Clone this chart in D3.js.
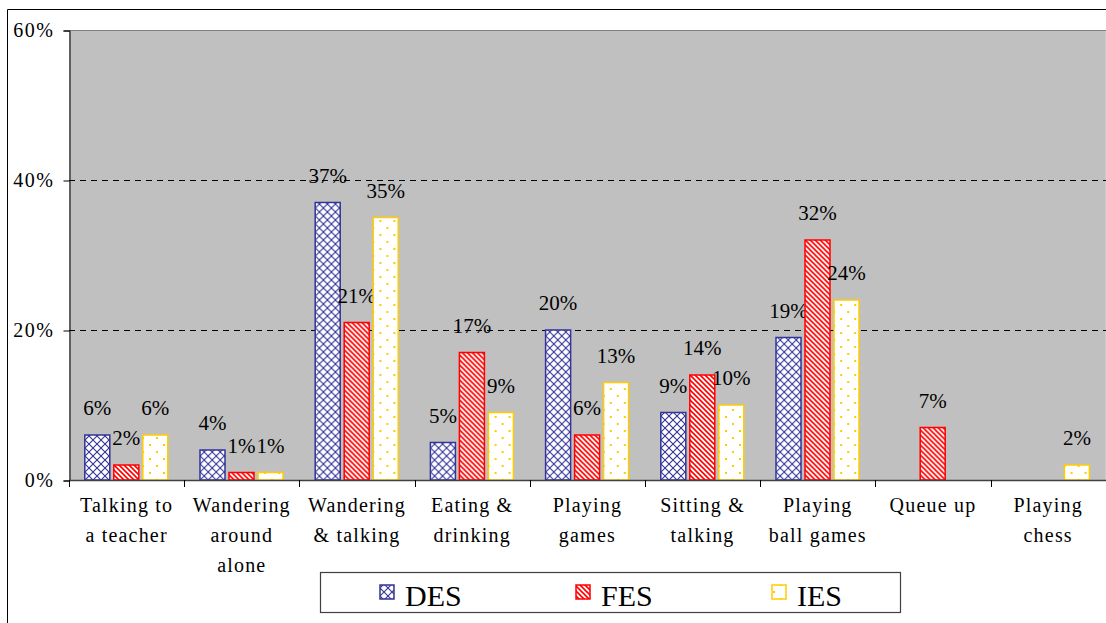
<!DOCTYPE html>
<html>
<head>
<meta charset="utf-8">
<script src="https://cdn.jsdelivr.net/npm/d3@7"></script>
<style>
  body, html { margin: 0; padding: 0; background: #fff; overflow: hidden; }
  svg { display: block; font-family: "Liberation Serif", "DejaVu Serif", serif; }
</style>
</head>
<body>
<svg id="chart" width="1106" height="623"></svg>
<script>
// data
var categories = [
  ["Talking to", "a teacher"],
  ["Wandering", "around", "alone"],
  ["Wandering", "& talking"],
  ["Eating &", "drinking"],
  ["Playing", "games"],
  ["Sitting &", "talking"],
  ["Playing", "ball games"],
  ["Queue up"],
  ["Playing", "chess"]
];
var seriesNames = ["DES", "FES", "IES"];
var desValues = [6, 4, 37, 5, 20, 9, 19, 0, 0];
var fesValues = [2, 1, 21, 17, 6, 14, 32, 7, 0];
var iesValues = [6, 1, 35, 9, 13, 10, 24, 0, 2];
var yTicks = [0, 20, 40, 60];

var seriesValues = [desValues, fesValues, iesValues];
var strokes = ["#333399", "#ff0000", "#ffcc00"];

var svg = d3.select("#chart");
var plotLeft = 69, plotTop = 30, plotBottom = 480, bandW = 115.2;

var x = d3.scaleBand().domain(d3.range(categories.length))
  .range([plotLeft, plotLeft + bandW * categories.length]).padding(0);
var xs = d3.scaleBand().domain(seriesNames).range([15.8, 98.8]).paddingInner(0.138);
var y = d3.scaleLinear().domain([0, 60]).range([plotBottom, plotTop]);

// patterns
var defs = svg.append("defs");
var pDes = defs.append("pattern").attr("id", "pDES").attr("patternUnits", "userSpaceOnUse")
  .attr("width", 8).attr("height", 8);
pDes.append("rect").attr("width", 8).attr("height", 8).attr("fill", "#fff");
pDes.append("path").attr("d", "M0,0L8,8M8,0L0,8").attr("stroke", "#333399").attr("stroke-width", 1.1);

var pFes = defs.append("pattern").attr("id", "pFES").attr("patternUnits", "userSpaceOnUse")
  .attr("width", 5).attr("height", 5);
pFes.append("rect").attr("width", 5).attr("height", 5).attr("fill", "#fff");
pFes.append("path").attr("d", "M-1,-1L6,6M-1,4L1,6M4,-1L6,1").attr("stroke", "#ff0000").attr("stroke-width", 1.6);

var pIes = defs.append("pattern").attr("id", "pIES").attr("patternUnits", "userSpaceOnUse")
  .attr("width", 14).attr("height", 14);
pIes.append("rect").attr("width", 14).attr("height", 14).attr("fill", "#fff");
pIes.append("rect").attr("x", 3).attr("y", 3).attr("width", 2).attr("height", 2).attr("fill", "#ffcc00");
pIes.append("rect").attr("x", 10).attr("y", 10).attr("width", 2).attr("height", 2).attr("fill", "#ffcc00");

// outer frame
svg.append("path").attr("d", "M7.5,640V9.5H1110").attr("fill", "none").attr("stroke", "#000").attr("stroke-width", 1);

// plot background
svg.append("rect").attr("x", plotLeft).attr("y", plotTop)
  .attr("width", bandW * categories.length).attr("height", plotBottom - plotTop)
  .attr("fill", "#c0c0c0");

// grid lines
svg.selectAll(".grid").data([20, 40]).enter().append("line")
  .attr("x1", plotLeft).attr("x2", 1110)
  .attr("y1", function(d) { return Math.round(y(d)) + 0.5; })
  .attr("y2", function(d) { return Math.round(y(d)) + 0.5; })
  .attr("stroke", "#000").attr("stroke-dasharray", "6,5").attr("stroke-width", 1);
svg.append("line").attr("x1", plotLeft).attr("x2", 1110).attr("y1", plotTop + 0.5).attr("y2", plotTop + 0.5)
  .attr("stroke", "#808080").attr("stroke-width", 1.2);

// bars
var groups = svg.selectAll(".grp").data(categories).enter().append("g")
  .attr("transform", function(d, i) { return "translate(" + x(i) + ",0)"; });

seriesNames.forEach(function(name, si) {
  groups.append("rect")
    .attr("x", xs(name))
    .attr("width", xs.bandwidth())
    .attr("y", function(d, i) { return y(seriesValues[si][i]); })
    .attr("height", function(d, i) { return plotBottom - y(seriesValues[si][i]); })
    .attr("fill", "url(#p" + name + ")")
    .attr("stroke", strokes[si]).attr("stroke-width", 1.5)
    .style("display", function(d, i) { return seriesValues[si][i] > 0 ? null : "none"; });

  groups.append("text")
    .attr("x", xs(name) + xs.bandwidth() / 2)
    .attr("y", function(d, i) { return y(seriesValues[si][i]) - 20; })
    .attr("text-anchor", "middle").attr("font-size", 21).attr("fill", "#000")
    .text(function(d, i) { return seriesValues[si][i] > 0 ? seriesValues[si][i] + "%" : ""; });
});

// y axis
var yAxis = svg.append("g").attr("transform", "translate(" + (plotLeft + 0.5) + ",0.5)")
  .call(d3.axisLeft(y).tickValues(yTicks).tickSize(6).tickPadding(9)
    .tickFormat(function(d) { return d + "%"; }));
yAxis.select(".domain").attr("stroke", "#000");
yAxis.selectAll("text").attr("font-size", 20).attr("letter-spacing", 1.5)
  .attr("font-family", "Liberation Serif, serif").attr("fill", "#000");

// x axis line and ticks between categories
svg.append("line").attr("x1", plotLeft).attr("x2", 1110).attr("y1", plotBottom + 0.5).attr("y2", plotBottom + 0.5)
  .attr("stroke", "#404040").attr("stroke-width", 1.5);
svg.selectAll(".xtick").data(d3.range(categories.length + 1)).enter().append("line")
  .attr("x1", function(d) { return Math.round(plotLeft + d * bandW) + 0.5; })
  .attr("x2", function(d) { return Math.round(plotLeft + d * bandW) + 0.5; })
  .attr("y1", plotBottom).attr("y2", plotBottom + 7).attr("stroke", "#000");

// category labels
groups.each(function(lines) {
  var t = d3.select(this).append("text").attr("text-anchor", "middle")
    .attr("font-size", 20).attr("fill", "#000").attr("letter-spacing", 1.2);
  lines.forEach(function(s, k) {
    t.append("tspan").attr("x", bandW / 2).attr("y", 512 + k * 30).text(s);
  });
});

// legend
var lg = svg.append("g");
lg.append("rect").attr("x", 320.5).attr("y", 572.5).attr("width", 580).attr("height", 40)
  .attr("fill", "#fff").attr("stroke", "#404040").attr("stroke-width", 1.2);
var legendX = [380, 576, 772];
seriesNames.forEach(function(name, si) {
  lg.append("rect").attr("x", legendX[si]).attr("y", 585).attr("width", 14).attr("height", 14)
    .attr("fill", "url(#p" + name + ")").attr("stroke", strokes[si]).attr("stroke-width", 1.5);
  lg.append("text").attr("x", legendX[si] + 25).attr("y", 606).attr("font-size", 30)
    .attr("fill", "#000").text(name);
});
</script>
</body>
</html>
